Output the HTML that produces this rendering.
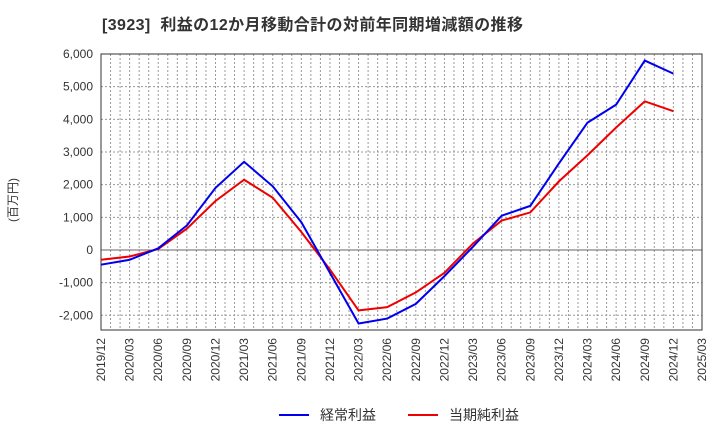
<!DOCTYPE html>
<html><head><meta charset="utf-8"><style>
body{margin:0;background:#fff;font-family:"Liberation Sans","Noto Sans CJK JP",sans-serif}
</style></head><body>
<svg id="c" width="720" height="440" xmlns="http://www.w3.org/2000/svg" font-family="Liberation Sans, Noto Sans CJK JP, sans-serif">
<text x="102" y="30" font-size="16" font-weight="bold" fill="#333" letter-spacing="0.4" xml:space="preserve">[3923]  利益の12か月移動合計の対前年同期増減額の推移</text>
<text transform="translate(17,200) rotate(-90)" font-size="12" fill="#333" text-anchor="middle">(百万円)</text>
<g id="grid"></g><g id="axes"></g><g id="series"></g>
<g>
<line x1="279" y1="415" x2="309" y2="415" stroke="#0000ee" stroke-width="2"/>
<text x="320" y="420" font-size="14" fill="#333">経常利益</text>
<line x1="408" y1="415" x2="438" y2="415" stroke="#ee0000" stroke-width="2"/>
<text x="449" y="420" font-size="14" fill="#333">当期純利益</text>
</g>
</svg>
<script>
const categories=["2019/12","2020/03","2020/06","2020/09","2020/12","2021/03","2021/06","2021/09","2021/12","2022/03","2022/06","2022/09","2022/12","2023/03","2023/06","2023/09","2023/12","2024/03","2024/06","2024/09","2024/12","2025/03"];
const ordinaryProfit=[-450,-300,50,750,1900,2700,1950,850,-700,-2250,-2100,-1650,-800,100,1050,1350,2650,3900,4450,5800,5400];
const netProfit=[-300,-200,30,650,1500,2150,1600,550,-600,-1850,-1750,-1300,-700,200,900,1150,2100,2900,3750,4550,4250];
const yTicks=[-2000,-1000,0,1000,2000,3000,4000,5000,6000];
const L=101,R=702,T=54,B=330,yMin=-2450,yMax=6000;
const xs=i=>L+(R-L)*i/(categories.length-1);
const ys=v=>B-(v-yMin)/(yMax-yMin)*(B-T);
const NS="http://www.w3.org/2000/svg";
function mk(p,tag,a){const e=document.createElementNS(NS,tag);for(const k in a)e.setAttribute(k,a[k]);p.appendChild(e);return e;}
const g=document.getElementById('grid'),ax=document.getElementById('axes'),s=document.getElementById('series');
const months=(categories.length-1)*3;
for(let m=1;m<months;m++){const x=L+(R-L)*m/months;
const l=mk(g,'line',{x1:x,x2:x,y1:T,y2:B,stroke:'#999','stroke-dasharray':'2,2','stroke-width':1});

}
yTicks.forEach(v=>{const y=ys(v);
const l=mk(g,'line',{x1:L,x2:R,y1:y,y2:y,stroke:v===0?'#666':'#999','stroke-dasharray':v===0?'':'2,2','stroke-width':1});


const t=mk(ax,'text',{x:L-8,y:y+4,'font-size':12,fill:'#333','text-anchor':'end'});t.textContent=v.toLocaleString('en-US');

});
const fr=mk(ax,'rect',{x:L,y:T,width:R-L,height:B-T,fill:'none',stroke:'#333','stroke-width':1});


categories.forEach((c,i)=>{const x=xs(i);
const t=mk(ax,'text',{transform:`translate(${x+4},${B+8}) rotate(-90)`,'font-size':12,fill:'#333','text-anchor':'end'});t.textContent=c;

});
function line(d,col,name){const p=mk(s,'polyline',{points:d.map((v,i)=>xs(i)+','+ys(v)).join(' '),fill:'none',stroke:col,'stroke-width':2});

}
line(netProfit,'#ee0000','net-profit-line');
line(ordinaryProfit,'#0000ee','ordinary-profit-line');
</script>
</body></html>
